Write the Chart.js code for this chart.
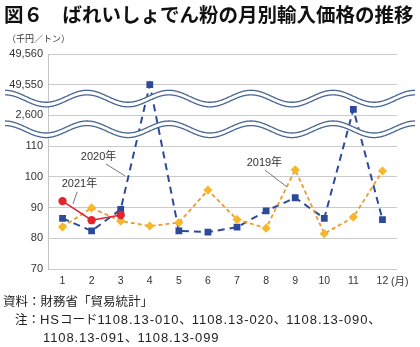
<!DOCTYPE html>
<html><head><meta charset="utf-8">
<script src="https://cdn.jsdelivr.net/npm/chart.js@4"></script>
<style>
html,body{margin:0;padding:0;background:#fff;}
#wrap{position:relative;width:420px;height:347px;overflow:hidden;background:#fff;}
canvas{position:absolute;left:0;top:0;}
.t{position:absolute;white-space:nowrap;color:#222;}
.n{font-family:"Liberation Sans","Noto Sans CJK JP";font-size:12.5px;line-height:16px;color:#222;}
.L{font-family:"Liberation Sans";font-size:13px;letter-spacing:0.9px;}
</style></head><body>
<div id="wrap">
<canvas id="c" width="420" height="347"></canvas>
<div class="t" style="left:4px;top:2px;font:bold 19.5px 'Noto Sans CJK JP';line-height:24px;color:#111;">図６　ばれいしょでん粉の月別輸入価格の推移</div>
<div class="t" style="left:7px;top:32px;font:9px 'Noto Sans CJK JP';line-height:14px;color:#333;">（千円／トン）</div>
<div class="t" style="left:391px;top:274px;font:10.5px 'Liberation Sans','Noto Sans CJK JP';line-height:14px;color:#333;">(月)</div>
<div class="t n" style="left:3px;top:294px;">資料：財務省「貿易統計」</div>
<div class="t n" style="left:15px;top:312px;">注：<span class="L">HS</span>コード<span class="L">1108.13-010</span>、<span class="L">1108.13-020</span>、<span class="L">1108.13-090</span>、</div>
<div class="t n" style="left:43px;top:330px;"><span class="L">1108.13-091</span>、<span class="L">1108.13-099</span></div>
</div>
<script>
const months = ['1','2','3','4','5','6','7','8','9','10','11','12'];
const yTickLabels = ['70','80','90','100','110','2,600','49,550','49,560'];
const price2019 = [83.7, 89.9, 85.6, 84.0, 85.1, 95.7, 86.1, 83.3, 102.3, 81.5, 86.9, 101.9];
const price2020 = [86.5, 82.4, 89.4, 49550, 82.4, 82.0, 83.6, 88.9, 93.2, 86.5, 2602, 86.1];
const price2021 = [92.1, 85.9, 87.6];
const seriesNames = ['2021年','2020年','2019年'];

// broken axis: map real values onto gridline index units
function toAxis(v){
  if (v <= 110) return (v - 70) / 10;
  if (v < 49550) return 5 + (v - 2600) / 10;
  return 6 + (v - 49550) / 10;
}

function drawWave(ctx, cy){
  const x0 = 5, x1 = 415, period = 82, amp = 6, gap = 4.6;
  const f = x => cy - amp * Math.cos(2 * Math.PI * (x - x0) / period);
  ctx.save();
  ctx.beginPath();
  for (let x = x0; x <= x1; x += 0.5) ctx.lineTo(x, f(x) - gap / 2);
  for (let x = x1; x >= x0; x -= 0.5) ctx.lineTo(x, f(x) + gap / 2);
  ctx.closePath();
  ctx.fillStyle = '#fff';
  ctx.fill();
  ctx.strokeStyle = '#4a6694';
  ctx.lineWidth = 1.3;
  [-1, 1].forEach(s => {
    ctx.beginPath();
    for (let x = x0; x <= x1; x += 0.5) {
      const y = f(x) + s * gap / 2;
      if (x === x0) ctx.moveTo(x, y); else ctx.lineTo(x, y);
    }
    ctx.stroke();
  });
  ctx.restore();
}

const notes = [
  {text: seriesNames[1], tx: 1.24, ty: 3.65, l: [1.49, 3.42, 2.15, 3.03]},
  {text: seriesNames[0], tx: 0.58, ty: 2.77, l: [0.50, 2.51, 0.36, 2.12]},
  {text: seriesNames[2], tx: 6.94, ty: 3.45, l: [6.96, 3.22, 7.72, 2.67]}
];

const breakPlugin = {
  id: 'breaks',
  afterDatasetsDraw(chart){
    const ctx = chart.ctx, y = chart.scales.y;
    drawWave(ctx, y.getPixelForValue(5.5) - 1.5);
    drawWave(ctx, y.getPixelForValue(4.5) - 1.5);
  },
  afterDraw(chart){
    const ctx = chart.ctx, a = chart.chartArea, y = chart.scales.y;
    const cw = (a.right - a.left) / months.length;
    const px = i => a.left + (i + 0.5) * cw;
    ctx.save();
    ctx.font = '11px "Liberation Sans", "Noto Sans CJK JP"';
    ctx.fillStyle = '#333';
    ctx.textAlign = 'center';
    ctx.textBaseline = 'middle';
    ctx.strokeStyle = '#555';
    ctx.lineWidth = 0.8;
    notes.forEach(n => {
      ctx.fillText(n.text, px(n.tx), y.getPixelForValue(n.ty));
      ctx.beginPath();
      ctx.moveTo(px(n.l[0]), y.getPixelForValue(n.l[1]));
      ctx.lineTo(px(n.l[2]), y.getPixelForValue(n.l[3]));
      ctx.stroke();
    });
    ctx.restore();
  }
};

new Chart(document.getElementById('c'), {
  type: 'line',
  data: {
    labels: months,
    datasets: [
      {label: seriesNames[0], data: price2021.map(toAxis), borderColor: '#e0252d', backgroundColor: '#e0252d',
       borderWidth: 1.6, pointStyle: 'circle', pointRadius: 4.2, pointBorderWidth: 0, tension: 0},
      {label: seriesNames[2], data: price2019.map(toAxis), borderColor: '#ee9a2c', backgroundColor: '#f6b82a',
       borderWidth: 1.8, borderDash: [4, 3], pointStyle: 'rectRot', pointRadius: 4.6, pointBorderWidth: 0, tension: 0},
      {label: seriesNames[1], data: price2020.map(toAxis), borderColor: '#2d4a9a', backgroundColor: '#2d4a9a',
       borderWidth: 2, borderDash: [7, 5], pointStyle: 'rect', pointRadius: 4.8, pointBorderWidth: 0, tension: 0}
    ]
  },
  options: {
    responsive: false,
    animation: false,
    devicePixelRatio: 1,
    layout: {padding: {top: 54, left: 0, right: 23, bottom: 58}},
    plugins: {legend: {display: false}, tooltip: {enabled: false}},
    scales: {
      x: {
        type: 'category', offset: true,
        grid: {display: false, drawTicks: false}, border: {display: false},
        ticks: {color: '#333', font: {size: 10.5, family: 'Liberation Sans'}, padding: 6, maxRotation: 0, autoSkip: false},
        afterFit(s){ s.height = 20; }
      },
      y: {
        type: 'linear', min: 0, max: 7,
        afterBuildTicks(s){ s.ticks = yTickLabels.map((_, i) => ({value: i})); },
        ticks: {callback: v => yTickLabels[v], color: '#333', font: {size: 11, family: 'Liberation Sans'}, padding: 5},
        grid: {color: '#cbcbcb', drawTicks: false, lineWidth: 1},
        border: {color: '#c4c4c4'},
        afterFit(s){ s.width = 48; }
      }
    }
  },
  plugins: [breakPlugin]
});
</script>
</body></html>
